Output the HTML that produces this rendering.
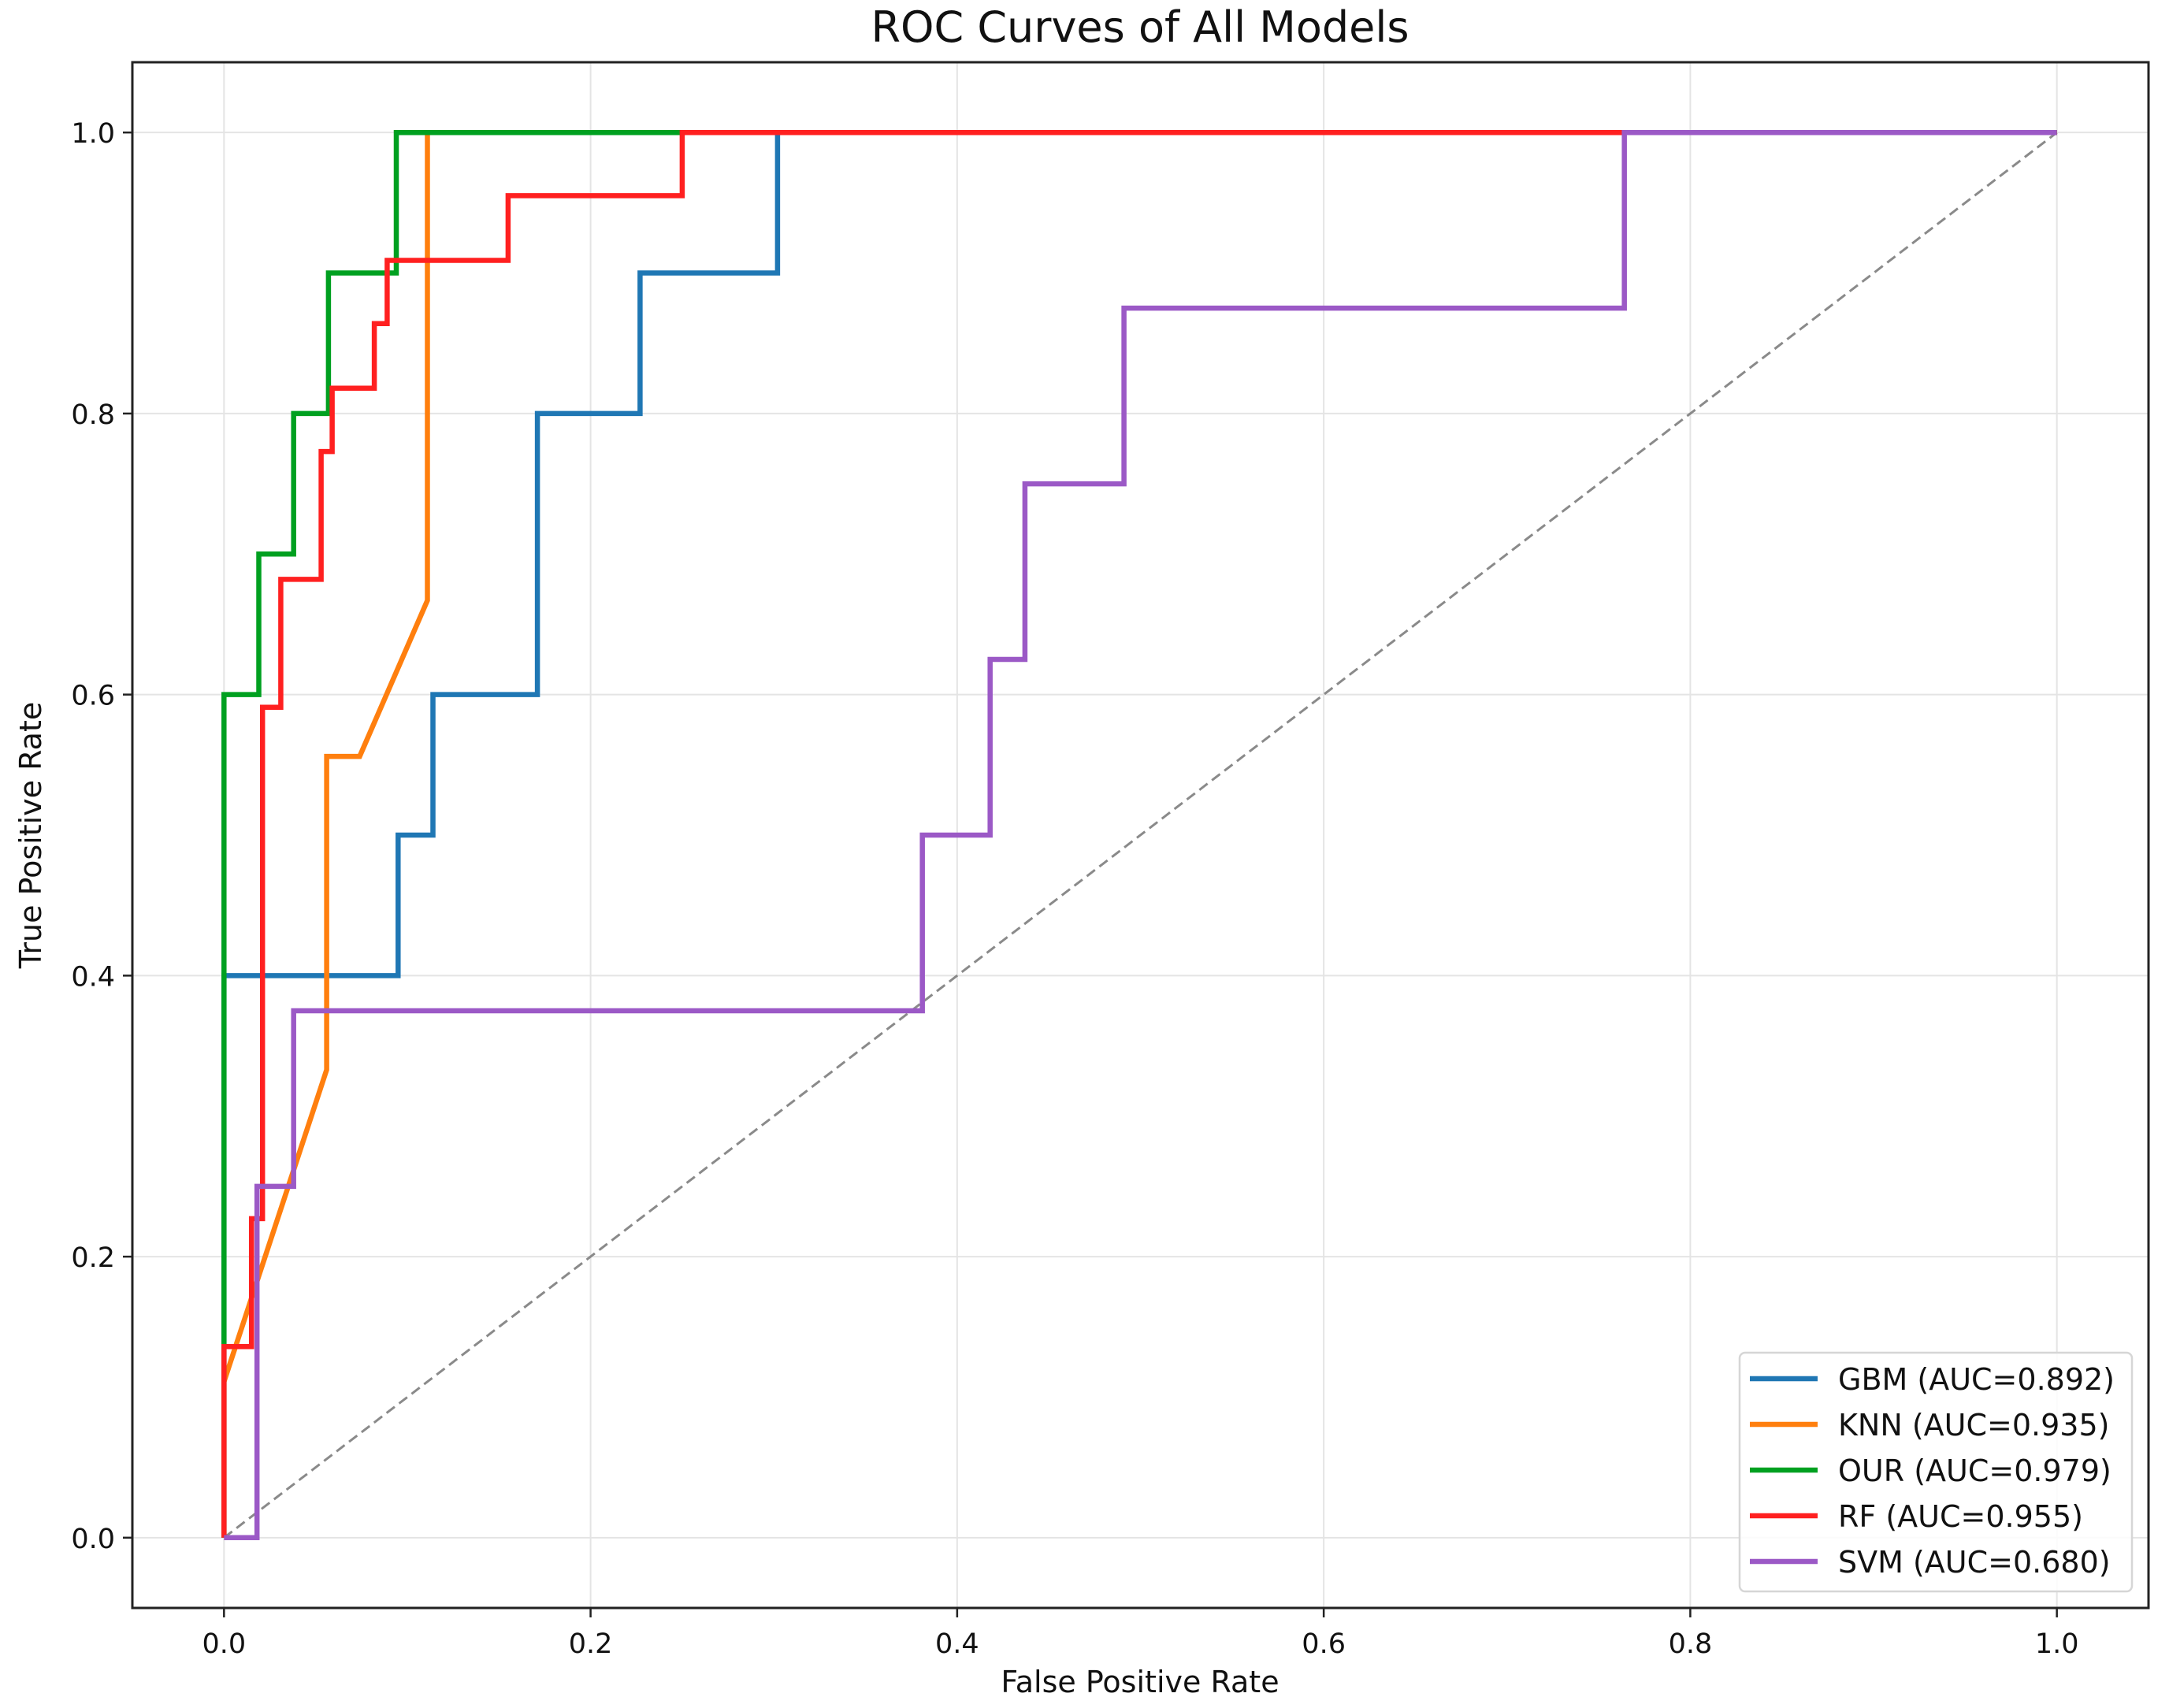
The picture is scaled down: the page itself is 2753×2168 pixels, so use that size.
<!DOCTYPE html>
<html><head><meta charset="utf-8"><style>
html,body{margin:0;padding:0;background:#fff;}
svg{display:block;font-family:"DejaVu Sans","Liberation Sans",sans-serif;}
</style></head><body>
<svg id="chart" width="2753" height="2168" viewBox="0 0 2753 2168" xmlns="http://www.w3.org/2000/svg">
<rect x="0" y="0" width="2753" height="2168" fill="#fff"/>
<text x="1447" y="53" font-size="54" text-anchor="middle" fill="#111">ROC Curves of All Models</text>
<g id="grid"></g>
<g id="series"></g>
<rect x="168" y="79" width="2559" height="1962" fill="none" stroke="#222" stroke-width="3"/>
<g id="ticks"></g>
<text x="1447" y="2148" font-size="38" text-anchor="middle" fill="#111">False Positive Rate</text>
<text x="0" y="0" font-size="38" text-anchor="middle" fill="#111" transform="translate(52,1060) rotate(-90)">True Positive Rate</text>
<g id="legend"></g>
</svg>
<script>
const xTicks=[0,0.2,0.4,0.6,0.8,1.0];
const yTicks=[0,0.2,0.4,0.6,0.8,1.0];
const tickLabels=["0.0","0.2","0.4","0.6","0.8","1.0"];
const seriesNames=["GBM (AUC=0.892)","KNN (AUC=0.935)","OUR (AUC=0.979)","RF (AUC=0.955)","SVM (AUC=0.680)"];
const seriesColors=["#1f77b4","#ff7f0e","#00a020","#ff2020","#9b59c6"];
const gbmFpr=[0,0,0.095,0.095,0.114,0.114,0.171,0.171,0.227,0.227,0.302,0.302,1];
const gbmTpr=[0,0.4,0.4,0.5,0.5,0.6,0.6,0.8,0.8,0.9,0.9,1,1];
const knnFpr=[0,0,0.056,0.056,0.074,0.111,0.111,1];
const knnTpr=[0,0.111,0.333,0.556,0.556,0.667,1,1];
const ourFpr=[0,0,0.019,0.019,0.038,0.038,0.057,0.057,0.094,0.094,1];
const ourTpr=[0,0.6,0.6,0.7,0.7,0.8,0.8,0.9,0.9,1,1];
const rfFpr=[0,0,0.015,0.015,0.021,0.021,0.031,0.031,0.053,0.053,0.059,0.059,0.082,0.082,0.089,0.089,0.155,0.155,0.25,0.25,1];
const rfTpr=[0,0.136,0.136,0.227,0.227,0.591,0.591,0.682,0.682,0.773,0.773,0.818,0.818,0.864,0.864,0.909,0.909,0.955,0.955,1,1];
const svmFpr=[0,0.018,0.018,0.038,0.038,0.381,0.381,0.418,0.418,0.437,0.437,0.491,0.491,0.764,0.764,1];
const svmTpr=[0,0,0.25,0.25,0.375,0.375,0.5,0.5,0.625,0.625,0.75,0.75,0.875,0.875,1,1];
const diagFpr=[0,1];
const diagTpr=[0,1];

const NS="http://www.w3.org/2000/svg";
const X0=168,X1=2727,Y0=2041,Y1=79;
const xMin=-0.05,xMax=1.05,yMin=-0.05,yMax=1.05;
function sx(v){return X0+(v-xMin)/(xMax-xMin)*(X1-X0);}
function sy(v){return Y0-(v-yMin)/(yMax-yMin)*(Y0-Y1);}
function mk(tag,attrs,parent){const e=document.createElementNS(NS,tag);for(const k in attrs)e.setAttribute(k,attrs[k]);parent.appendChild(e);return e;}
const grid=document.getElementById('grid'),ticks=document.getElementById('ticks'),ser=document.getElementById('series'),leg=document.getElementById('legend');
xTicks.forEach((v,i)=>{
  const g=mk('line',{x1:sx(v),x2:sx(v),y1:Y1,y2:Y0,stroke:'#e4e4e4','stroke-width':2},grid);
  
  
  const t=mk('line',{x1:sx(v),x2:sx(v),y1:Y0,y2:Y0+12,stroke:'#222','stroke-width':2.5},ticks);
  
  
  const l=mk('text',{x:sx(v),y:Y0+57,'font-size':35,'text-anchor':'middle',fill:'#111'},ticks);
  l.textContent=tickLabels[i];
  
  
});
yTicks.forEach((v,i)=>{
  const g=mk('line',{x1:X0,x2:X1,y1:sy(v),y2:sy(v),stroke:'#e4e4e4','stroke-width':2},grid);
  
  
  const t=mk('line',{x1:X0-12,x2:X0,y1:sy(v),y2:sy(v),stroke:'#222','stroke-width':2.5},ticks);
  
  
  const l=mk('text',{x:X0-22,y:sy(v)+13,'font-size':35,'text-anchor':'end',fill:'#111'},ticks);
  l.textContent=tickLabels[i];
  
  
});
function pts(xs,ys){return xs.map((x,i)=>sx(x).toFixed(1)+','+sy(ys[i]).toFixed(1)).join(' ');}
const d=mk('polyline',{points:pts(diagFpr,diagTpr),fill:'none',stroke:'#8a8a8a','stroke-width':3,'stroke-dasharray':'13,7'},ser);


const allF=[gbmFpr,knnFpr,ourFpr,rfFpr,svmFpr],allT=[gbmTpr,knnTpr,ourTpr,rfTpr,svmTpr];
const keys=['gbm','knn','our','rf','svm'];
allF.forEach((f,i)=>{
  const p=mk('polyline',{points:pts(f,allT[i]),fill:'none',stroke:seriesColors[i],'stroke-width':6.5,'stroke-linejoin':'miter'},ser);
  
  
});
const lb=mk('rect',{x:2208,y:1717,width:498,height:303,rx:7,fill:'#fff','fill-opacity':0.85,stroke:'#d6d6d6','stroke-width':2.5},leg);


seriesNames.forEach((n,i)=>{
  const y=1750+i*58;
  const ln=mk('line',{x1:2221,x2:2307,y1:y,y2:y,stroke:seriesColors[i],'stroke-width':6.5},leg);
  
  
  const t=mk('text',{x:2333,y:y+14,'font-size':38,fill:'#111'},leg);
  t.textContent=n;
  
  
});
</script>
</body></html>
